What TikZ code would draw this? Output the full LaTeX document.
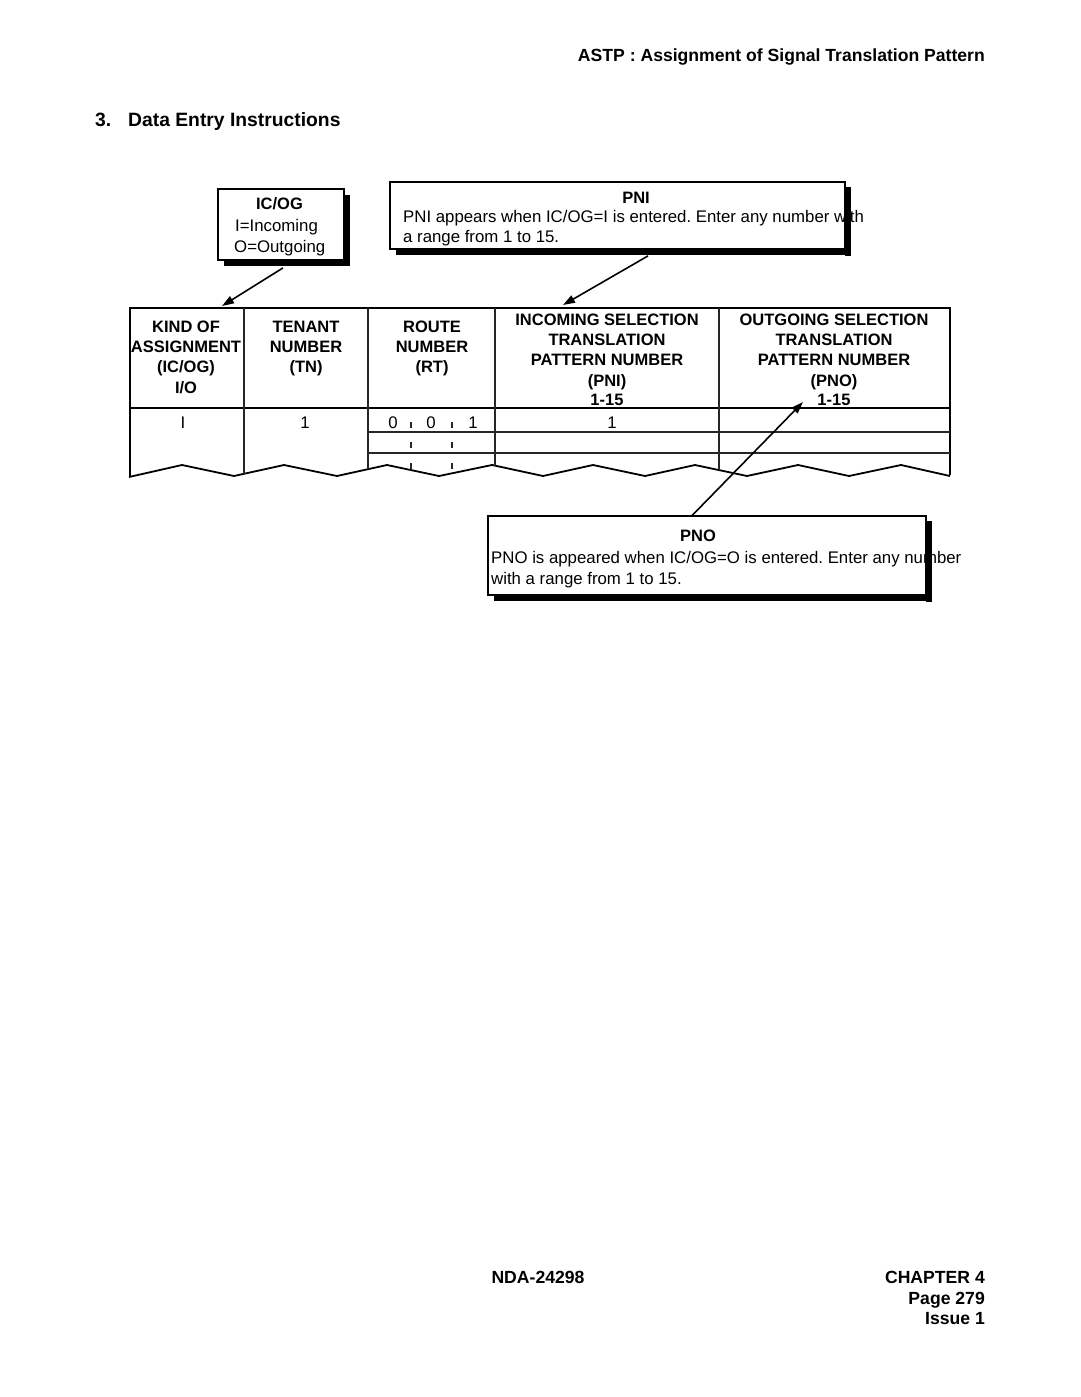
\documentclass[tikz,border=0pt]{standalone}
\usepackage{fontspec}
\setmainfont{Liberation Sans}
\usetikzlibrary{arrows.meta,calc,shadows}
\frenchspacing
\begin{document}
\begin{tikzpicture}[x=1pt,y=-1pt,
  body/.style={inner sep=0pt, anchor=base west, font=\fontsize{16.8}{20}\selectfont},
  bodyc/.style={inner sep=0pt, anchor=base, font=\fontsize{16.8}{20}\selectfont},
  hd/.style={inner sep=0pt, anchor=base, font=\fontsize{16.5}{20}\selectfont\bfseries},
  big/.style={inner sep=0pt, font=\fontsize{17.6}{21}\selectfont\bfseries},
  ttl/.style={inner sep=0pt, anchor=base west, font=\fontsize{19.3}{23}\selectfont\bfseries},
  box/.style={draw, line width=1.8pt, fill=white, inner sep=0pt,
    drop shadow={shadow xshift=6pt, shadow yshift=-6pt, fill=black, opacity=1}},
  arr/.style={line width=1.6pt, -{Triangle[length=12pt,width=8pt]}},
  tline/.style={line width=1.2pt, black!85},
  touter/.style={line width=1.8pt},
]
\useasboundingbox[fill=white] (0,0) rectangle (1080,1397);

% page header
\node[big, anchor=base east] (hdr) at (985,62) {ASTP : Assignment of Signal Translation Pattern};
\node[ttl] (secno) at (95,126) {3.};
\node[ttl] (sectitle) at (128,126) {Data Entry Instructions};

% IC/OG box
\node[box, minimum width=126pt, minimum height=71pt] (icog) at (281,224.5) {};
\node[hd] (icogt) at (279.5,209) {IC/OG};
\node[body] (icog1) at (235,231) {I=Incoming};
\node[body] (icog2) at (234,252) {O=Outgoing};

% PNI box
\node[box, minimum width=455pt, minimum height=67pt] (pni) at (617.5,215.5) {};
\node[hd] (pnit) at (636,203) {PNI};
\node[body] (pni1) at (403,222) {PNI appears when IC/OG=I is entered. Enter any number with};
\node[body] (pni2) at (403,242) {a range from 1 to 15.};
\fill ($(pni.north east)+(-0.9,6)$) rectangle ($(pni.south east)+(5.1,6)$);

% PNO box
\node[box, minimum width=438pt, minimum height=79pt] (pno) at (707,555.5) {};
\node[hd] (pnot) at (698,541) {PNO};
\node[body] (pno1) at (491,563) {PNO is appeared when IC/OG=O is entered. Enter any number};
\node[body] (pno2) at (491,584) {with a range from 1 to 15.};
\fill ($(pno.north east)+(-0.9,6)$) rectangle ($(pno.south east)+(5.1,6)$);

% table
\coordinate (tl) at (130,308);
\coordinate (tr) at (950,308);
\draw[touter] (130,477) -- (tl) -- (tr) -- (950,475);
\draw[touter] (130,408) -- (950,408);
\draw[touter, line join=miter]
  (129,477) -- (182,465) -- (234,476) -- (284,465) -- (337,476) -- (387,465)
  -- (439,476) -- (492,465) -- (543,476) -- (593,465) -- (645,476) -- (695,465)
  -- (747,476) -- (798,465) -- (849,476) -- (901,465) -- (950,476);
\draw[tline] (244,308) -- (244,474);
\draw[tline] (368,308) -- (368,469);
\draw[tline] (495,308) -- (495,465.5);
\draw[tline] (719,308) -- (719,470);
\draw[tline] (368,432) -- (950,432);
\draw[tline] (368,453) -- (950,453);
\foreach \tx in {411,452}{
  \draw[tline] (\tx,422) -- (\tx,428);
  \draw[tline] (\tx,442) -- (\tx,448);
  \draw[tline] (\tx,463) -- (\tx,469);
}

% table headers
\node[hd] (h1a) at (186,332) {KIND OF};
\node[hd] (h1b) at (186,352) {ASSIGNMENT};
\node[hd] (h1c) at (186,372) {(IC/OG)};
\node[hd] (h1d) at (186,393) {I/O};
\node[hd] (h2a) at (306,332) {TENANT};
\node[hd] (h2b) at (306,352) {NUMBER};
\node[hd] (h2c) at (306,372) {(TN)};
\node[hd] (h3a) at (432,332) {ROUTE};
\node[hd] (h3b) at (432,352) {NUMBER};
\node[hd] (h3c) at (432,372) {(RT)};
\node[hd] (h4a) at (607,325) {INCOMING SELECTION};
\node[hd] (h4b) at (607,345) {TRANSLATION};
\node[hd] (h4c) at (607,365) {PATTERN NUMBER};
\node[hd] (h4d) at (607,386) {(PNI)};
\node[hd] (h4e) at (607,405) {1-15};
\node[hd] (h5a) at (834,325) {OUTGOING SELECTION};
\node[hd] (h5b) at (834,345) {TRANSLATION};
\node[hd] (h5c) at (834,365) {PATTERN NUMBER};
\node[hd] (h5d) at (834,386) {(PNO)};
\node[hd] (h5e) at (834,405) {1-15};

% values
\node[bodyc] (v1) at (183,428) {I};
\node[bodyc] (v2) at (305,428) {1};
\node[bodyc] (v3) at (393,428) {0};
\node[bodyc] (v4) at (431,428) {0};
\node[bodyc] (v5) at (473,428) {1};
\node[bodyc] (v6) at (612,428) {1};

% arrows
\coordinate (kindtop) at (222,306);
\coordinate (pnitop) at (563,305);
\coordinate (pnohead) at (803,402);
\draw[arr] ($(icog.south)+(2,7)$) -- (kindtop);
\draw[arr] ($(pni.south)+(30.5,6)$) -- (pnitop);
\draw[arr] ($(pno.north)+(-15,0.5)$) -- (pnohead);

% footer
\node[big, anchor=base] (doc) at (538,1283) {NDA-24298};
\node[big, anchor=base east] (chap) at (985,1283) {CHAPTER 4};
\node[big, anchor=base east] (page) at (985,1304) {Page 279};
\node[big, anchor=base east] (issue) at (985,1324) {Issue 1};
\end{tikzpicture}
\end{document}
